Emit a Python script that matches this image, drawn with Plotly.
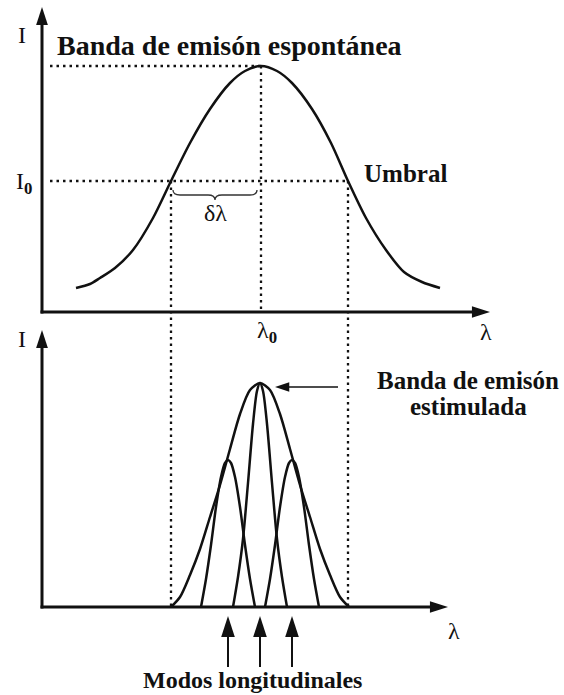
import math
import plotly.graph_objects as go

# ---- Spontaneous emission band (upper panel), arbitrary units ----
lam_spont = [34, 48, 58, 73, 91, 111, 129, 148, 168, 188, 203, 219,
             235, 250, 270, 289, 306, 324, 344, 362, 380, 398]
I_spont = [24, 28, 34, 44, 62, 94, 131, 169, 203, 229, 241, 246,
           241, 229, 203, 169, 131, 94, 62, 40, 30, 24]

lam0 = 219      # central wavelength
I_peak = 246    # maximum of the spontaneous band
I0 = 131        # threshold intensity
lam_lo = 129    # threshold crossings
lam_hi = 306

# ---- Stimulated emission band (lower panel) ----
lam_env = [129, 138, 148, 158, 168, 178, 188, 198, 208, 218,
           228, 238, 248, 258, 268, 278, 288, 298, 307]
I_env = [0, 10, 32, 58, 90, 122, 158, 193, 217, 224,
         217, 193, 158, 122, 90, 58, 32, 10, 0]

# Longitudinal modes
lam_m1 = [159, 164, 169, 174, 179, 183, 186, 189, 193, 198, 203, 208, 213]
I_m1 = [0, 28, 62, 100, 130, 144, 147, 144, 130, 100, 62, 28, 0]
lam_m2 = [191, 196, 201, 206, 211, 215, 218, 221, 225, 230, 235, 240, 245]
I_m2 = [0, 30, 68, 124, 183, 216, 224, 216, 183, 124, 68, 30, 0]
lam_m3 = [223, 228, 233, 238, 243, 247, 250, 253, 257, 262, 267, 272, 277]
I_m3 = [0, 28, 62, 100, 130, 144, 147, 144, 130, 100, 62, 28, 0]
mode_centers = [186, 218, 250]

# ---- Layout constants ----
W, H = 564, 695
X_RANGE = [-42, 522]
Y_TOP = [-383, 312]
Y_BOT = [-88, 607]
INK = "#111111"
SERIF = "Liberation Serif, Times New Roman, serif"
DOT = "2.5px,4px"


def bot_in_top(v):
    """Express a lower-panel intensity in upper-panel axis units."""
    return Y_TOP[0] + (v - Y_BOT[0]) * (Y_TOP[1] - Y_TOP[0]) / (Y_BOT[1] - Y_BOT[0])


fig = go.Figure()

curve = dict(color=INK, width=2.5, shape="spline", smoothing=0.8)

# Spontaneous band
fig.add_trace(go.Scatter(x=lam_spont, y=I_spont, mode="lines", line=curve,
                         yaxis="y", hoverinfo="skip"))

# Stimulated envelope and modes
for lx, ly in [(lam_env, I_env), (lam_m1, I_m1), (lam_m2, I_m2), (lam_m3, I_m3)]:
    fig.add_trace(go.Scatter(x=lx, y=ly, mode="lines", line=curve,
                             yaxis="y2", hoverinfo="skip"))

# Dotted guide lines
dotted = dict(color=INK, width=2.3, dash=DOT)
guides = [
    ([8, lam0], [I_peak, I_peak]),
    ([8, lam_hi], [I0, I0]),
    ([lam0, lam0], [I_peak, 0]),
    ([lam_lo, lam_lo], [I0, bot_in_top(0)]),
    ([lam_hi, lam_hi], [I0, bot_in_top(0)]),
]
for gx, gy in guides:
    fig.add_trace(go.Scatter(x=gx, y=gy, mode="lines", line=dotted,
                             yaxis="y", hoverinfo="skip"))

# Curly brace marking the linewidth
xa, xb = lam_lo + 2, lam0 - 4
xm = (xa + xb) / 2
yt, yl, yc = I0 - 9, I0 - 14, I0 - 19
brace = (f"M{xa},{yt} Q{xa},{yl} {xa + 7},{yl} L{xm - 7},{yl} "
         f"Q{xm},{yl} {xm},{yc} Q{xm},{yl} {xm + 7},{yl} "
         f"L{xb - 7},{yl} Q{xb},{yl} {xb},{yt}")
fig.add_shape(type="path", path=brace, xref="x", yref="y",
              line=dict(color="#333333", width=1.3))


def arrow(x0, y0, x1, y1, yaxis, width, head):
    """Straight arrow from (x0, y0) to the tip (x1, y1)."""
    dx, dy = x1 - x0, y1 - y0
    length = math.hypot(dx, dy)
    back = head * 0.5 / length
    fig.add_trace(go.Scatter(x=[x0, x1 - dx * back], y=[y0, y1 - dy * back],
                             mode="lines", line=dict(color=INK, width=width),
                             yaxis=yaxis, hoverinfo="skip"))
    fig.add_trace(go.Scatter(x=[x1], y=[y1], mode="markers", yaxis=yaxis,
                             marker=dict(symbol="arrow", size=head, color=INK,
                                         angle=math.degrees(math.atan2(dx, dy)),
                                         line=dict(width=0)),
                             hoverinfo="skip"))


# Axes with arrowheads
arrow(0, -1.5, 0, 305, "y", 3, 19)
arrow(-1.5, 0, 448, 0, "y", 3, 19)
arrow(0, -1.5, 0, 277, "y2", 3, 19)
arrow(-1.5, 0, 406, 0, "y2", 3, 19)

# Pointer to the stimulated band
arrow(lam_env[9] + 78, I_env[9] - 4, lam_env[9] + 15, I_env[9] - 4, "y2", 1.5, 15)

# Longitudinal mode markers
for c in mode_centers:
    arrow(c, -60, c, -9, "y2", 2, 22)

annotations = []


def label(text, px, py, size=24, bold=False):
    annotations.append(dict(
        text=f"<b>{text}</b>" if bold else text,
        x=px / W, y=1 - py / H, xref="paper", yref="paper",
        xanchor="center", yanchor="middle", showarrow=False,
        font=dict(family=SERIF, size=size, color=INK)))


label("I", 22, 35, 24)
label("Banda de emisón espontánea", 229, 46, 28, bold=True)
label("I<sub><b>0</b></sub>", 24, 183, 24)
label("Umbral", 405, 174, 25, bold=True)
label("δλ", 215, 213, 24)
label("λ<sub><b>0</b></sub>", 267, 332, 24)
label("λ", 486, 332, 24)
label("I", 22, 339, 24)
label("Banda de emisón", 468, 380, 25, bold=True)
label("estimulada", 468, 406, 25, bold=True)
label("λ", 454, 631, 24)
label("Modos longitudinales", 252, 680, 24, bold=True)

hidden = dict(visible=False, fixedrange=True)
fig.update_layout(
    width=W, height=H,
    margin=dict(l=0, r=0, t=0, b=0),
    paper_bgcolor="white", plot_bgcolor="white",
    showlegend=False,
    xaxis=dict(range=X_RANGE, domain=[0, 1], **hidden),
    yaxis=dict(range=Y_TOP, domain=[0, 1], **hidden),
    yaxis2=dict(range=Y_BOT, overlaying="y", **hidden),
    annotations=annotations,
)

fig.write_html("out.html")
